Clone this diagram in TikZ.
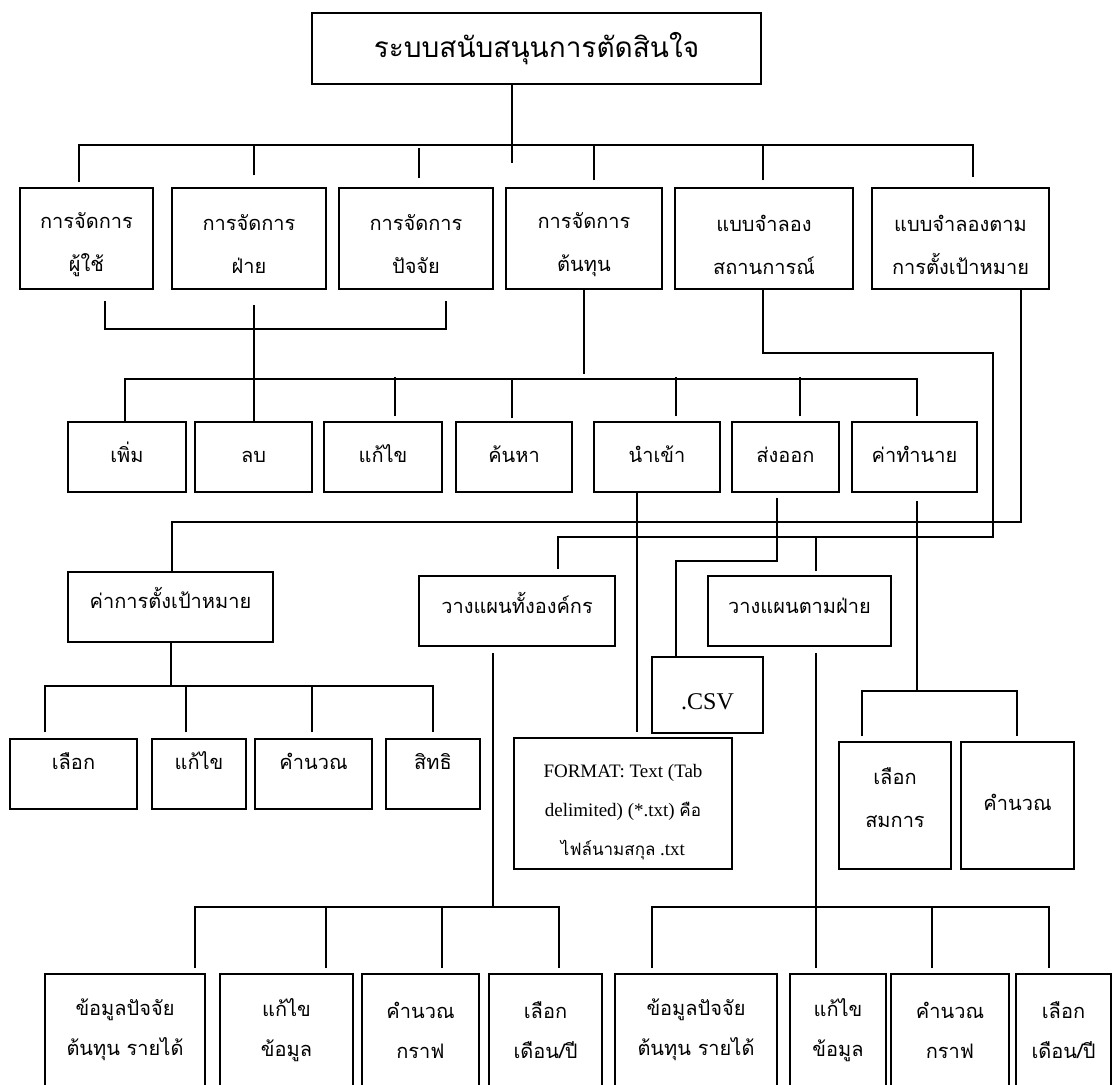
\documentclass[tikz,border=0pt]{standalone}
\usepackage{fontspec}
\setmainfont{Liberation Serif}
\newfontfamily\thai[Script=Thai]{Loma}
% box from its corners: [options], name, x1, y1, x2, y2, text
\newcommand{\cbox}[7][]{%
  \node[box,#1,minimum width={(#5)-(#3)},minimum height={(#6)-(#4)}]
    (#2) at ({((#3)+(#5))/2},{((#4)+(#6))/2}) {#7};}
% move one line of text up (positive) or down (negative) without changing its size
\newcommand{\mv}[2]{\raisebox{#1pt}[\height][\depth]{#2}}
\begin{document}
\begin{tikzpicture}[x=1pt,y=-1pt,
  box/.style={draw,line width=1.5pt,inner sep=0pt,align=center,
    font=\thai\fontsize{20}{43}\selectfont},
  one/.style={text height=16pt,text depth=6pt},
  link/.style={line width=1.3pt}]
\useasboundingbox (0,0) rectangle (1113,1084);

% ---- boxes ----
\cbox[font=\thai\fontsize{28}{34}\selectfont]{top}{312}{13}{761}{84}{ระบบสนับสนุนการตัดสินใจ}
\cbox{u1}{20}{188}{153}{289}{\mv{-6}{การจัดการ}\\\mv{-6}{ผู้ใช้}}
\cbox{u2}{172}{188}{326}{289}{\mv{-6}{การจัดการ}\\\mv{-6}{ฝ่าย}}
\cbox{u3}{339}{188}{493}{289}{\mv{-6}{การจัดการ}\\\mv{-6}{ปัจจัย}}
\cbox{u4}{506}{188}{662}{289}{\mv{-6}{การจัดการ}\\\mv{-6}{ต้นทุน}}
\cbox{u5}{675}{188}{853}{289}{\mv{-6}{แบบจำลอง}\\\mv{-6}{สถานการณ์}}
\cbox{u6}{872}{188}{1049}{289}{\mv{-6}{แบบจำลองตาม}\\\mv{-6}{การตั้งเป้าหมาย}}

\cbox[one]{a1}{68}{422}{186}{492}{เพิ่ม}
\cbox[one]{a2}{195}{422}{312}{492}{ลบ}
\cbox[one]{a3}{324}{422}{442}{492}{แก้ไข}
\cbox[one]{a4}{456}{422}{572}{492}{ค้นหา}
\cbox[one]{a5}{594}{422}{720}{492}{นำเข้า}
\cbox[one]{a6}{732}{422}{839}{492}{ส่งออก}
\cbox[one]{a7}{852}{422}{977}{492}{ค่าทำนาย}

\cbox[one]{g}{68}{572}{273}{642}{\mv{4}{ค่าการตั้งเป้าหมาย}}
\cbox[one]{g1}{10}{739}{137}{809}{\mv{10}{เลือก}}
\cbox[one]{g2}{152}{739}{246}{809}{\mv{10}{แก้ไข}}
\cbox[one]{g3}{255}{739}{372}{809}{\mv{10}{คำนวณ}}
\cbox[one]{g4}{386}{739}{480}{809}{\mv{10}{สิทธิ}}

\cbox[one]{po}{419}{576}{615}{646}{\mv{3}{วางแผนทั้งองค์กร}}
\cbox[one]{pd}{708}{576}{891}{646}{\mv{3}{วางแผนตามฝ่าย}}
\cbox[font=\fontsize{24}{28}\selectfont]{csv}{652}{657}{763}{733}{\mv{-7}{.CSV}}
\cbox[font=\fontsize{19}{39}\selectfont]{fmt}{514}{738}{732}{869}%
  {\mv{-9}{FORMAT: Text (Tab}\\\mv{-9}{delimited) (*.txt) {\thai\fontsize{17}{39}\selectfont คือ}}\\%
   \mv{-9}{{\thai\fontsize{17}{39}\selectfont ไฟล์นามสกุล} .txt}}
\cbox{s1}{839}{742}{951}{869}{\mv{8}{เลือก}\\\mv{8}{สมการ}}
\cbox[one]{s2}{961}{742}{1074}{869}{คำนวณ}

\cbox[font=\thai\fontsize{20}{40}\selectfont]{o1}{45}{974}{205}{1086}{ข้อมูลปัจจัย\\ต้นทุน รายได้}
\cbox[font=\thai\fontsize{20}{40}\selectfont]{o2}{220}{974}{353}{1086}{แก้ไข\\ข้อมูล}
\cbox[font=\thai\fontsize{20}{40}\selectfont]{o3}{362}{974}{479}{1086}{คำนวณ\\กราฟ}
\cbox[font=\thai\fontsize{20}{40}\selectfont]{o4}{489}{974}{602}{1086}{เลือก\\เดือน/ปี}
\cbox[font=\thai\fontsize{20}{40}\selectfont]{d1}{615}{974}{777}{1086}{ข้อมูลปัจจัย\\ต้นทุน รายได้}
\cbox[font=\thai\fontsize{20}{40}\selectfont]{d2}{790}{974}{886}{1086}{แก้ไข\\ข้อมูล}
\cbox[font=\thai\fontsize{20}{40}\selectfont]{d3}{891}{974}{1009}{1086}{คำนวณ\\กราฟ}
\cbox[font=\thai\fontsize{20}{40}\selectfont]{d4}{1016}{974}{1111}{1086}{เลือก\\เดือน/ปี}

% ---- bus corners ----
\coordinate (b0r) at (973,145);
\coordinate (j1r) at (446,329);
\coordinate (b2r) at (917,379);
\coordinate (r1) at (993,353);
\coordinate (r2) at (993,537);
\coordinate (r3) at (1021,522);
\coordinate (gb) at (433,686);
\coordinate (ob) at (559,907);
\coordinate (db) at (1049,907);
\coordinate (r4) at (777,561);
\coordinate (sb) at (1017,691);

% ---- top level ----
\draw[link] ([xshift=-24.5pt]top.south) -- ++(0,-78pt);
\draw[link] ([xshift=-7.5pt,yshift=5pt]u1.north) |- (b0r) -- ([xshift=12.5pt,yshift=10pt]u6.north);
\draw[link] ([xshift=5pt,yshift=12pt]u2.north) -- ++(0,29pt);
\draw[link] ([xshift=3pt,yshift=9pt]u3.north) -- ++(0,30pt);
\draw[link] ([xshift=10pt,yshift=7pt]u4.north) -- ++(0,34pt);
\draw[link] ([xshift=-1pt,yshift=7pt]u5.north) -- ++(0,34pt);

% ---- shared operations ----
\draw[link] ([xshift=18.5pt,yshift=-11pt]u1.south) |- (j1r) -- ([xshift=30pt,yshift=-11pt]u3.south);
\draw[link] ([xshift=5pt,yshift=-15pt]u2.south) -- ++(0,-118pt);
\draw[link] (u4.south) -- ++(0,-84pt);
\draw[link] ([xshift=-2pt]a1.north) |- (b2r) -- ([xshift=2.5pt,yshift=5pt]a7.north);
\draw[link] ([xshift=12pt,yshift=5pt]a3.north) -- ++(0,39pt);
\draw[link] ([xshift=-2pt,yshift=3pt]a4.north) -- ++(0,39pt);
\draw[link] ([xshift=19pt,yshift=5pt]a5.north) -- ++(0,39pt);
\draw[link] ([xshift=14.5pt,yshift=5pt]a6.north) -- ++(0,39pt);

% ---- scenario model ----
\draw[link] ([xshift=-1pt]u5.south) |- (r1) -- (r2) -| ([xshift=41pt,yshift=6pt]po.north);
\draw[link] ([xshift=16.5pt,yshift=4pt]pd.north) -- ++(0,35pt);

% ---- goal model ----
\draw[link] ([xshift=60.5pt]u6.south) -- (r3) -| ([xshift=1.5pt]g.north);
\draw[link] ([xshift=0.5pt]g.south) -- ++(0,-44pt);
\draw[link] ([xshift=-28.5pt,yshift=6pt]g1.north) |- (gb) -- ([yshift=6pt]g4.north);
\draw[link] ([xshift=-13pt,yshift=6pt]g2.north) -- ++(0,47pt);
\draw[link] ([xshift=-1.5pt,yshift=6pt]g3.north) -- ++(0,47pt);

% ---- whole organisation plan ----
\draw[link] ([xshift=-24pt,yshift=-6pt]po.south) -- ++(0,-255pt);
\draw[link] ([xshift=70pt,yshift=5pt]o1.north) |- (ob) -- ([xshift=13.5pt,yshift=5pt]o4.north);
\draw[link] ([xshift=39.5pt,yshift=5pt]o2.north) -- ++(0,62pt);
\draw[link] ([xshift=21.5pt,yshift=5pt]o3.north) -- ++(0,62pt);

% ---- department plan ----
\draw[link] ([xshift=16.5pt,yshift=-6pt]pd.south) -- ([xshift=-22pt,yshift=5pt]d2.north);
\draw[link] ([xshift=-44pt,yshift=5pt]d1.north) |- (db) -- ([xshift=-14.5pt,yshift=5pt]d4.north);
\draw[link] ([xshift=-18pt,yshift=5pt]d3.north) -- ++(0,62pt);

% ---- import / export / forecast ----
\draw[link] ([xshift=-20pt]a5.south) -- ([xshift=14pt,yshift=5pt]fmt.north);
\draw[link] ([xshift=-8.5pt,yshift=-5pt]a6.south) -- (r4) -| ([xshift=-31.5pt]csv.north);
\draw[link] ([xshift=2.5pt,yshift=-8pt]a7.south) -- ++(0,-191pt);
\draw[link] ([xshift=-33pt,yshift=5pt]s1.north) |- (sb) -- ([xshift=-0.5pt,yshift=5pt]s2.north);
\end{tikzpicture}
\end{document}
